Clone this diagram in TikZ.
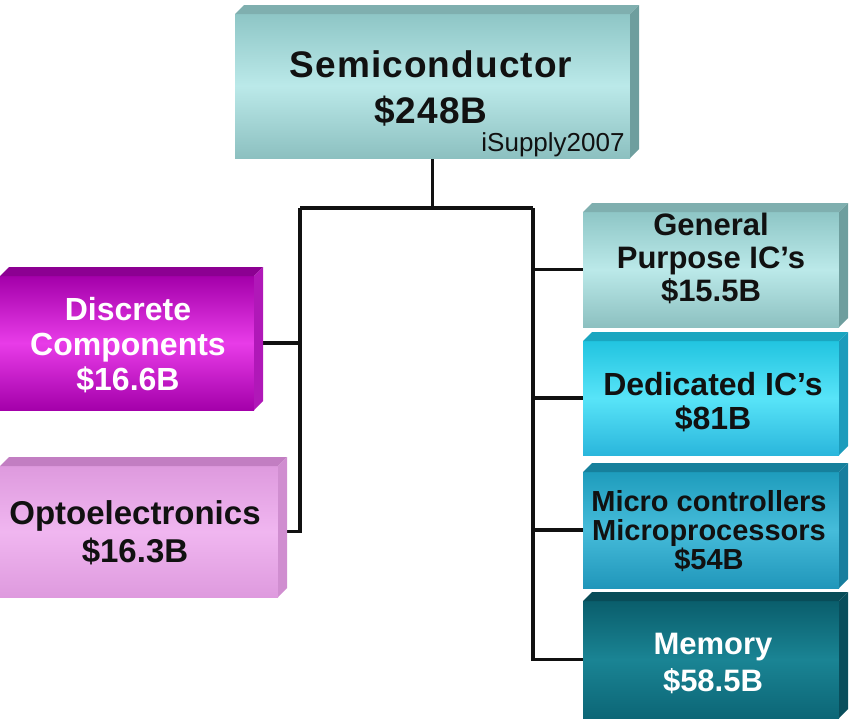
\documentclass[tikz,border=0pt]{standalone}
\usepackage{fontspec}
\setmainfont{Liberation Sans}
\usetikzlibrary{calc,backgrounds}
\definecolor{semiA}{HTML}{8EC6C6}
\definecolor{semiB}{HTML}{BBE9E9}
\definecolor{semiC}{HTML}{8CC0C0}
\definecolor{semiTop}{HTML}{7FAFAF}
\definecolor{semiSide}{HTML}{6E9E9E}
\definecolor{discA}{HTML}{A400AA}
\definecolor{discB}{HTML}{E83CE8}
\definecolor{discTop}{HTML}{8C0092}
\definecolor{discSide}{HTML}{B018B8}
\definecolor{optoA}{HTML}{DE9ADE}
\definecolor{optoB}{HTML}{F0B6F0}
\definecolor{optoTop}{HTML}{C27EC2}
\definecolor{optoSide}{HTML}{D08ED0}
\definecolor{dedA}{HTML}{22C4E0}
\definecolor{dedB}{HTML}{58E4F8}
\definecolor{dedC}{HTML}{2AB6DC}
\definecolor{dedTop}{HTML}{1AA6C0}
\definecolor{dedSide}{HTML}{1C9CBC}
\definecolor{micA}{HTML}{1E9CBC}
\definecolor{micB}{HTML}{46BCDA}
\definecolor{micC}{HTML}{2096BA}
\definecolor{micTop}{HTML}{16809C}
\definecolor{micSide}{HTML}{177E9E}
\definecolor{memA}{HTML}{0A5E6C}
\definecolor{memB}{HTML}{1A8494}
\definecolor{memC}{HTML}{0C6676}
\definecolor{memTop}{HTML}{084C58}
\definecolor{memSide}{HTML}{094E5C}
\definecolor{ink}{HTML}{111111}
\newcommand\boxbevel[4]{%
  \fill[#3] (#1.north west) -- ++(#2,-#2) -- ($(#1.north east)+(#2,-#2)$) -- (#1.north east) -- cycle;
  \fill[#4] (#1.north east) -- ++(#2,-#2) -- ($(#1.south east)+(#2,-#2)$) -- (#1.south east) -- cycle;}
\begin{document}
\begin{tikzpicture}[x=1pt,y=-1pt,
  face/.style={rectangle, inner sep=0pt, outer sep=0pt},
  lbl/.style={align=center, inner sep=0pt, font=\bfseries},
  conn/.style={draw=ink, line width=3.2pt}]
\useasboundingbox (0,0) rectangle (854,723);
% boxes
\node[face, minimum width=395pt, minimum height=144pt, top color=semiA, bottom color=semiC, middle color=semiB] (semi) at (432.5,86) {};
\boxbevel{semi}{9}{semiTop}{semiSide}
\node[face, minimum width=254pt, minimum height=134pt, top color=discA, bottom color=discA, middle color=discB] (disc) at (127,343) {};
\boxbevel{disc}{9}{discTop}{discSide}
\node[face, minimum width=278pt, minimum height=131pt, top color=optoA, bottom color=optoA, middle color=optoB] (opto) at (139,531.5) {};
\boxbevel{opto}{9}{optoTop}{optoSide}
\node[face, minimum width=256pt, minimum height=115pt, top color=semiA, bottom color=semiC, middle color=semiB] (gen) at (711,269.5) {};
\boxbevel{gen}{9}{semiTop}{semiSide}
\node[face, minimum width=256pt, minimum height=114pt, top color=dedA, bottom color=dedC, middle color=dedB] (ded) at (711,398) {};
\boxbevel{ded}{9}{dedTop}{dedSide}
\node[face, minimum width=256pt, minimum height=116pt, top color=micA, bottom color=micC, middle color=micB] (mic) at (711,530) {};
\boxbevel{mic}{9}{micTop}{micSide}
\node[face, minimum width=256pt, minimum height=117pt, top color=memA, bottom color=memC, middle color=memB] (mem) at (711,659.5) {};
\boxbevel{mem}{9}{memTop}{memSide}
% labels
\node[lbl, text=ink, font=\fontsize{37}{46}\selectfont\bfseries\addfontfeature{LetterSpace=3}] (semit) at (431,88) {Semiconductor\\\$248B};
\node[inner sep=0pt, text=ink, font=\fontsize{26}{30}\selectfont] (isup) at (553,145) {iSupply2007};
\node[lbl, text=white, font=\fontsize{32}{35}\selectfont\bfseries] (disct) at (128,345) {Discrete\\Components\\\$16.6B};
\node[lbl, text=ink, font=\fontsize{33}{38}\selectfont\bfseries] (optot) at (135,533) {Optoelectronics\\\$16.3B};
\node[lbl, text=ink, font=\fontsize{31}{33}\selectfont\bfseries] (gent) at (711,258) {General\\Purpose IC’s\\\$15.5B};
\node[lbl, text=ink, font=\fontsize{32}{34}\selectfont\bfseries] (dedt) at (713,402) {Dedicated IC’s\\\$81B};
\node[lbl, text=ink, font=\fontsize{29}{29}\selectfont\bfseries] (mict) at (709,531) {Micro controllers\\Microprocessors\\\$54B};
\node[lbl, text=white, font=\fontsize{31}{37}\selectfont\bfseries] (memt) at (713,663) {Memory\\\$58.5B};
% connectors
\coordinate (bus) at (432.5,208);
\coordinate (lt) at (300,208);
\coordinate (rt) at (533,208);
\begin{scope}[on background layer]
\draw[conn] (semi.south) -- (bus);
\draw[conn] (lt) -- (rt);
\draw[conn] (lt) |- (opto.east);
\draw[conn] (disc.east) -- (disc.east -| lt);
\draw[conn] (rt) |- (mem.west);
\draw[conn] (gen.west -| rt) -- (gen.west);
\draw[conn] (ded.west -| rt) -- (ded.west);
\draw[conn] (mic.west -| rt) -- (mic.west);
\end{scope}
\end{tikzpicture}
\end{document}
